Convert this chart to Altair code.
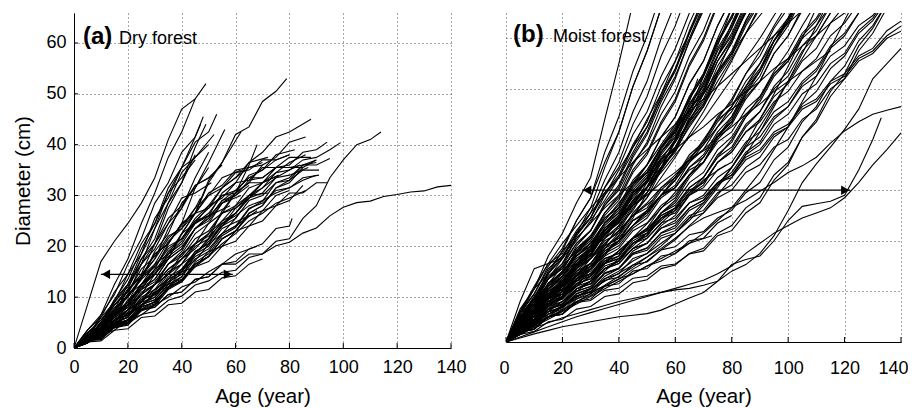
import altair as alt
import pandas as pd

FONT = "Liberation Sans"

x_ticks = [0, 20, 40, 60, 80, 100, 120, 140]
y_ticks = [0, 10, 20, 30, 40, 50, 60]

# Each line: diameters at ages 0, 5, 10, ... ; the last value sits at the given end age
dry_lines = [
    [0, 8.5, 17, 21, 24.5, 28.5, 33.5, 41, 47, 49, 52],
    [0, 3.5, 6.5, 12.5, 17.5, 24.5, 30.5, 37.5, 42.5, 49],
    [0, 2, 6.5, 10.5, 16.5, 21.5, 28.5, 32.5, 38.5, 41.5, 45.5],
    [0, 2.5, 4.5, 9.5, 13.5, 19.5, 24.5, 31.5, 35.5, 40.5, 42.5, 46],
    [0, 1.5, 5, 7.5, 12.5, 16.5, 23.5, 28.5, 34.5, 37.5, 42],
    [0, 2.5, 4.5, 9, 12.5, 18.5, 23.5, 30.5, 35.5, 41.5, 44],
    [0, 1.5, 4.5, 6.5, 11.5, 14.5, 20.5, 24.5, 29.5, 30.5, 32.5],
    [0, 2, 3, 6.5, 8.5, 12.5, 15.5, 20.5, 24.5, 31.5, 36.5, 43],
    [0, 1, 3.5, 5, 8.5, 10.5, 14.5, 17.5, 22.5, 26.5, 32.5, 36.5, 42.5],
    [0, 2.5, 4, 8.5, 11.5, 17.5, 21.5, 28.5, 32.5, 38],
    [0, 2, 6, 9, 14.5, 18.5, 25.5, 29.5, 35.5, 37.5, 40],
    [0, 2, 3.5, 7.5, 10.5, 16.5, 20.5, 27.5, 32.5, 39.5, 44],
    [0, 1.5, 4.5, 6, 10.5, 13.5, 19, 22.5, 28.5, 31.5, 35.5],
    [0, 2, 3, 6.5, 9, 14, 17.5, 23.5, 27.5, 33.5, 38.5],
    [0, 1, 4, 5.5, 9.5, 11.5, 15.5, 17.5, 22.5, 26.5, 33, 36.5, 42, 43.5, 48.5, 50.5, 53],
    [0, 2, 2.5, 5.5, 7, 10.5, 12.5, 16.5, 19, 23.5, 26, 30.5, 32.5, 36.5, 38.5, 41.5, 42.5, 45],
    [0, 1, 3.5, 4.5, 7.5, 9, 12.5, 14.5, 18.5, 20.5, 24.5, 26.5, 30.5, 32.5, 36, 37.5, 40.5, 41.5],
    [0, 2, 2.5, 5, 6, 9.5, 11, 14.5, 16.5, 20.5, 22.5, 26.5, 28, 31.5, 32.5, 35.5, 36, 38.5, 39, 40.5],
    [0, 1.5, 2, 4.5, 5.5, 8.5, 10, 13.5, 15, 19, 20.5, 24.5, 26.5, 30, 31.5, 34.5, 35, 37, 37.5, 39, 40.4],
    [0, 1.5, 2, 4.5, 5, 7.5, 8, 10.5, 11, 13.5, 14, 16.5, 16.5, 18.5, 18.5, 21, 21.5, 25.5, 28, 33.5, 37, 40, 41, 42.5],
    [0, 1.5, 2.2, 4, 4.8, 6.6, 7.2, 9.4, 10.2, 12.4, 13.2, 14.9, 15.3, 17.8, 18.5, 20.1, 20.8, 22.6, 23.6, 26, 27.7, 28.6, 28.9, 29.8, 30.2, 30.7, 30.9, 31.7, 32],
    [0, 1.5, 2.2, 4.5, 5, 7.5, 8, 10.5, 11, 13.5, 14, 16.5, 17, 19.5, 20.5, 23.5, 24, 25.5],
    [0, 2, 2.5, 5, 6, 9, 10, 13, 14.5, 18, 19.5, 22.5, 24, 27],
    [0, 2, 2.5, 5.5, 6.5, 9.5, 10.5, 14, 15.5, 19, 20.5, 24, 25.5, 29, 30, 32.5, 33, 35, 35],
    [0, 1.5, 2.5, 4.8, 5.5, 8.5, 9.5, 12.5, 14, 17.5, 19, 22.5, 24, 27.5, 28.5, 31, 31.5, 33.5, 34],
    [0, 1, 3.2, 4, 7, 8, 11, 12, 15, 16, 19, 20, 23, 24, 27, 28, 30.5, 30.5, 32.5, 32.5],
    [0, 2.5, 3.5, 7, 8.5, 12, 13.5, 17.5, 19.5, 23.5, 25.5, 29, 30, 33, 33.5, 35.5, 35.5, 36.5],
    [0, 1.5, 5, 6.5, 10.5, 12.5, 16.5, 18.5, 22.5, 24.5, 28, 29.5, 32.5, 33, 35.5, 35.5, 37.5, 37.5],
    [0, 2.3, 3.5, 7, 8.5, 12.5, 14.5, 18.5, 20.5, 24.5, 26.5, 30, 31, 33.5, 33.5, 35.5, 35.5],
    [0, 1.5, 5, 7, 11.5, 14, 18.5, 20.5, 24.5, 26.5, 30, 31.5, 34.5, 35, 37, 37, 38],
    [0, 3, 4.5, 8.5, 11, 15.5, 18, 22, 23.5, 26.5, 27.5, 30, 30.5, 32.5, 32.5, 34],
    [0, 1.5, 5, 7, 11.5, 14, 18.5, 20.5, 24.5, 26.5, 30.5, 32, 35, 36],
    [0, 2, 2.5, 5.5, 6.5, 9.5, 10.5, 13.5, 15, 18.5, 20, 23.5, 26],
    [0, 2.5, 4, 8, 10, 14, 16, 20, 21.5, 25, 26, 28],
    [0, 2, 3, 6.5, 8, 11.5, 13, 16.5, 18, 21.5, 23, 26.5, 27.5, 30, 30.5],
    [0, 1.5, 1.8, 4.3, 5, 8, 9, 12, 13, 16, 17, 20, 21, 24, 25, 28, 29, 32],
    [0, 1.7, 2.1, 4.7, 5.5, 8.5, 9.5, 12.5, 13.5, 16.5, 18, 21.5, 23, 26.5, 28, 31.5, 32.5, 35.5, 37],
    [0, 1.2, 1.4, 3.5, 3.8, 6, 6.3, 8.5, 8.8, 11, 11.5, 13.8, 14.2, 16.5, 17.5],
    [0, 2, 3, 6, 7.5, 11, 12.5, 16.5, 18.5, 22.5, 24.5, 28.5, 30.5, 34, 35, 38, 39],
    [0, 1.8, 2.5, 5.5, 6.5, 10, 11.5, 15, 16.5, 20, 21.5, 25, 26.5, 29.5, 30.5, 33.5, 34, 35.5],
    [0, 2.3, 3.5, 6.5, 8, 11.5, 13.5, 17.5, 19.5, 23.5, 25, 28.5, 30],
    [0, 3, 5, 9.5, 12.5, 17.5, 20.5, 25.5, 28, 32, 33.5, 36],
    [0, 3.5, 6, 11, 14.5, 20.5, 24.5, 30.5, 33.5, 37],
    [0, 1.5, 1.7, 4, 4.5, 7.3, 8.3, 11.5, 13, 16.5, 18, 21.5, 23, 26.5, 28, 31.5, 33, 36, 37],
    [0, 1.7, 2, 4.5, 5.3, 8.1, 9, 12, 13.3, 16.5, 18, 21.5, 23, 26, 27, 30, 31],
    [0, 1.5, 1.7, 4.1, 4.7, 7.5, 8.5, 12, 14, 18.5, 21.5, 27, 30.5, 36, 40],
    [0, 1.6, 1.9, 4.3, 4.9, 7.7, 8.7, 11.9, 13.3, 16.9, 18.5, 22.1, 23.7, 27.3, 28.9, 32.5, 33.5, 36, 36, 37.3],
    [0, 1, 2.5, 3.5, 5.5, 6.5, 8.5, 10, 12, 13, 15, 16.5, 18.5, 20],
    [0, 2, 3.5, 6, 8, 10.5, 12.5, 15.5, 17.5, 20.5, 22.5],
    [0, 1.5, 3.5, 5, 7.5, 9, 11.5, 13.5, 16.5, 18.5, 21.5, 24, 27.5, 29.5, 32.5, 34],
    [0, 2.5, 4.5, 7.5, 10, 13.5, 16, 19.5, 21.5, 24.5, 26, 28.5, 30, 32],
    [0, 1.2, 2.6, 4.2, 5.6, 7.6, 9.2, 11.6, 13.4, 16, 18, 20.5, 22.5, 25, 26.5, 28.5, 29.5, 31],
    [0, 2.8, 5.5, 8.5, 11, 14.5, 17.5, 21.5, 24, 27.5, 29.5],
    [0, 1.8, 3, 5.5, 7.5, 10.5, 12.5, 15.5, 17.5, 20.5, 22, 24.5, 26, 28, 29, 30.5, 31.5, 33, 34],
    [0, 1.4, 3.2, 4.6, 6.8, 8.4, 10.8, 12.6, 15.4, 17.2, 20.4, 22.5, 25.5, 27],
    [0, 2.2, 4, 7, 9, 12.5, 14.5, 18, 20, 23.5, 25.5, 29, 31, 33.5, 35, 37, 38],
    [0, 2.5, 4, 7.5, 10, 14, 16.5, 21, 23.5, 27.5, 30, 33.5, 35],
    [0, 1.5, 3.5, 5, 7.5, 9.5, 12.5, 14.5, 17.5, 19.5, 22.5, 25, 28, 30, 32.5, 34.5, 36.5, 38],
    [0, 2, 3.5, 6.5, 8.5, 12, 14.5, 18.5, 21, 25, 27.5, 31.5, 33.5, 36.5, 37.5],
    [0, 3, 5.5, 9, 12, 16.5, 19.5, 24.5, 27.5, 32, 34],
    [0, 1.3, 2.8, 4.5, 6.3, 8.5, 10.5, 13, 15.5, 18.5, 21, 24, 26.5, 29.5, 31.5, 33.5, 35, 36],
    [0, 2.2, 3.8, 6.8, 9, 12.5, 15, 19, 21.5, 25.5, 28, 31.5, 33.5, 35.5, 36.5],
]
dry_end = [49, 45, 48, 53, 52, 47, 51, 56, 62, 45, 50, 49, 50, 50, 79, 88, 86, 94, 99, 114,
           140, 81, 68, 91, 91, 94, 90, 88, 85, 80, 76, 70, 65, 58, 72, 85, 90, 70, 82, 87,
           62, 55, 45, 90, 80, 68, 95, 68, 50, 76, 65, 86, 47, 90, 62, 80,
           62, 86, 72, 52, 84, 70]

# Moist forest: lines observed at every 5-year step (most leave the top of the panel)
moist_lines = [
    [0, 6, 10.5, 17, 21.5, 27.5, 32.5, 44, 55, 67],
    [0, 5.5, 9.5, 15, 18.5, 24, 28.5, 37.5, 44.5, 53.5, 60.5, 69],
    [0, 8, 14.5, 15.5, 16.5, 21.5, 26.5, 34.5, 41.5, 50.5, 57.5, 66],
    [0, 5, 8.5, 14, 18, 24, 28.5, 35.5, 41.5, 50.5, 57.5, 66],
    [0, 4.5, 8, 13.5, 16.5, 21.5, 24.5, 30.5, 35.5, 43, 48.5, 56.5, 62.5, 70],
    [0, 6.5, 10.5, 15.5, 17.5, 22, 25.5, 32, 37.5, 45.5, 51.5, 60, 67],
    [0, 4.5, 7.5, 12.5, 15.5, 20.5, 23.5, 29, 32.5, 38.5, 42.5, 49, 54, 61.5, 68],
    [0, 4, 7, 11.5, 14, 19, 22, 27.5, 31, 37, 41.5, 48.5, 53.5, 61, 67],
    [0, 5.5, 8.5, 13, 15.5, 19.5, 22, 27, 30.5, 36.5, 41, 47.5, 52.5, 59.5, 65.5],
    [0, 3.5, 6, 10.5, 13, 17.5, 20.5, 25.5, 29, 35, 39.5, 46.5, 52, 59.5, 66],
    [0, 5, 8, 12.5, 14.5, 18.5, 21, 25.5, 28.5, 34, 37.5, 43.5, 48, 55, 60, 67],
    [0, 4, 6.5, 11, 13.5, 18, 20.5, 25, 28, 33.5, 37, 43, 47.5, 54.5, 59.5, 66.5],
    [0, 3.5, 5.5, 9.5, 11.5, 15.5, 18, 22.5, 25, 29.5, 32.5, 37.5, 41, 47, 51.5, 58, 62.5, 69],
    [0, 4.5, 7, 11, 13, 17, 19, 23, 25.5, 30, 33, 38.5, 42.5, 48.5, 53, 59.5, 64, 70],
    [0, 3, 5, 9, 11, 15, 17, 21.5, 24, 29, 32, 37.5, 41.5, 48, 52.5, 59.5, 64.5, 71],
    [0, 4, 6.5, 10.5, 12.5, 16.5, 18.5, 22.5, 24.5, 29, 31.5, 36.5, 39.5, 45, 49, 55.5, 60, 66],
    [0, 3.5, 5.5, 9.5, 11, 14.5, 16.5, 20.5, 23, 27.5, 30.5, 36, 40, 46.5, 51, 57.5, 62, 68],
    [0, 3, 4.5, 8, 9.5, 13.5, 15.5, 19.5, 22, 26.5, 29.5, 34.5, 38, 44, 48, 54.5, 59, 65.5, 70.5],
    [0, 5, 8, 12.5, 14.5, 18.5, 20.5, 24.5, 26.5, 31, 33.5, 38.5, 41.5, 47, 50.5, 56.5, 60.5, 66.5],
    [0, 3.5, 6, 10, 12, 16, 18, 22.5, 25, 29.5, 32.5, 38, 42, 48.5, 53, 60, 66],
    [0, 2.5, 4, 7.5, 9, 12.5, 14.5, 18.5, 21, 25.5, 28.5, 34, 38, 44.5, 49.5, 56.5, 62, 69],
    [0, 4, 6, 10, 11.5, 15.5, 17.5, 22, 24.5, 29.5, 32.5, 37.5, 40.5, 46, 49.5, 55.5, 59.5, 65.5, 70],
    [0, 3, 4.5, 8.5, 10.5, 14.5, 16.5, 20.5, 22.5, 27, 29.5, 34.5, 37.5, 43, 46.5, 52.5, 56.5, 62.5, 67],
    [0, 4.5, 7.5, 11.5, 13.5, 17.5, 19.5, 23.5, 25.5, 29.5, 31.5, 36, 38.5, 43.5, 47, 53, 57, 63, 67.5],
    [0, 3.5, 5.5, 9.5, 11.5, 16, 18.5, 23.5, 26.5, 31.5, 35, 40.5, 44.5, 51, 55.5, 62.5, 68],
    [0, 3, 5, 9, 11, 15, 17.5, 22, 24.5, 29, 32, 37, 40.5, 46, 50, 56.5, 61, 67],
    [0, 2.5, 3.5, 6.5, 7.5, 10.5, 12, 15.5, 17, 20.5, 22.5, 26.5, 28.5, 33, 35.5, 40.5, 43.5, 49, 52.5, 58.5, 62.5, 68],
    [0, 3, 4.5, 8, 9.5, 13, 14.5, 18, 19.5, 23, 25, 29, 31, 35.5, 38, 42.5, 45.5, 50.5, 54, 59.5, 63, 68.5],
    [0, 3.5, 5, 8.5, 10, 13.5, 15, 18.5, 20, 24, 26, 30, 32.5, 37, 39.5, 44.5, 47.5, 53, 56.5, 62, 66],
    [0, 2.5, 4, 7.5, 9, 12.5, 14, 17.5, 19, 22.5, 24.5, 28.5, 30.5, 34.5, 37, 41.5, 44.5, 50, 53.5, 59.5, 63.5, 69],
    [0, 4, 6, 10, 11.5, 15, 16.5, 20, 21.5, 25, 26.5, 30.5, 32.5, 36.5, 39, 43.5, 46.5, 51.5, 55, 60.5, 64, 69],
    [0, 2.3, 3.1, 6, 7, 10, 11, 14.5, 16, 19.5, 21.5, 25.5, 28, 32.5, 35.5, 40.5, 44, 49.5, 53.5, 59.5, 64, 70],
    [0, 3.3, 5.1, 8.7, 10.3, 13.9, 15.5, 19, 20.5, 24, 25.5, 29, 30.5, 34.5, 36.5, 41, 43.5, 48.5, 51.5, 57, 60.5, 65.5],
    [0, 2.7, 4, 7.3, 8.7, 12.1, 13.5, 17, 18.5, 22, 23.5, 27, 29, 33, 35.5, 40, 43, 48, 51.5, 57, 60.5, 66],
    [0, 2.5, 3.5, 6.5, 7.5, 10.5, 11.5, 14.5, 16, 19.5, 21, 24.5, 26, 29.5, 31.5, 35.5, 37.5, 41.5, 44, 48.5, 51, 55.5, 58, 63, 66.5],
    [0, 3, 4.5, 8, 9, 12, 13, 16, 17, 20.5, 22, 25.5, 27, 30.5, 32.5, 36.5, 38.5, 43, 45.5, 50, 52.5, 57.5, 60.5, 65],
    [0, 3.5, 5.5, 9, 10.5, 14, 15.5, 19, 20.5, 24, 25.5, 29, 30.5, 34, 35.5, 39.5, 41.5, 46, 48.5, 53, 55.5, 60, 62.5, 66.5],
    [0, 2, 2.5, 5, 6, 9, 10, 13, 14.5, 18, 19.5, 23, 25, 29, 31, 35.5, 38, 42.5, 45.5, 50.5, 53.5, 58.5, 61.5, 66.5],
    [0, 2.5, 4, 7.5, 9, 12.5, 13.5, 16.5, 17.5, 20.5, 22, 25.5, 27.5, 31.5, 33.5, 38, 40.5, 45, 48, 53, 56, 61, 64, 68.5],
    [0, 3, 4, 7, 8, 11, 12, 15, 16, 19.5, 21, 24.5, 26.5, 30.5, 32.5, 37, 39.5, 44.5, 47.5, 52.5, 55.5, 60.5, 63.5, 68],
    [0, 2.5, 3.5, 6.5, 7.5, 10.5, 11.5, 14.5, 15.5, 18.5, 19.5, 22.5, 24, 27.5, 29, 32.5, 34.5, 38.5, 40.5, 44.5, 46.5, 50.5, 52.5, 56.5, 58.5, 62.5, 64.5, 68],
    [0, 2, 2.5, 5.5, 6.5, 9.5, 10.5, 13.5, 14.5, 17.5, 18.5, 21.5, 22.5, 26, 27.5, 31, 33, 37, 39, 43, 45, 49, 51, 55, 57, 61.5, 64, 68],
    [0, 3, 4.5, 7.5, 8.5, 11.5, 12.5, 15.5, 16.5, 20, 21.5, 25, 26.5, 30, 31.5, 35.5, 37.5, 41.5, 43.5, 47.5, 49.5, 53.5, 56, 60.5, 63, 67],
    [0, 2.3, 3.1, 6, 6.8, 9.6, 10.6, 13.6, 14.6, 17.6, 18.6, 21.6, 23, 26.5, 28, 31.5, 33.5, 37.5, 39.5, 44, 46.5, 51, 53.5, 58, 60.5, 65, 68],
    [0, 3.5, 5, 8.5, 9.5, 12.5, 13.5, 16.5, 17.5, 20.5, 21.5, 24.5, 25.5, 29, 30.5, 34, 35.5, 39.5, 41.5, 45.5, 47.5, 51.5, 54, 58.5, 61, 65],
    [0, 2.5, 3.5, 6.5, 7.5, 10.5, 11.5, 14.5, 15.5, 18.5, 19.5, 22.5, 23.5, 26.5, 28, 31.5, 33, 36.5, 38, 41.5, 43, 46.5, 48, 51.5, 53, 56.5, 58, 61.5, 63.4],
    [0, 3, 4.5, 7.5, 8.5, 11.5, 12.5, 15.5, 16.5, 19.5, 20.5, 23.5, 24.5, 27.5, 28.5, 31.5, 32.5, 36, 37.5, 41, 42.5, 46, 47.5, 51, 52.5, 56, 57.5, 60.5, 62.4],
    [0, 2, 2.5, 5, 5.5, 8.5, 9.5, 12.5, 13.5, 16.5, 17.5, 20.5, 21.5, 24.5, 25.5, 28.5, 30, 33.5, 35, 38.5, 40, 44, 46, 50, 52, 55.5, 57, 60, 61.4],
    [0, 1.5, 2.8, 3.8, 4.8, 5.6, 6.4, 7.2, 8, 8.6, 9.2, 9.8, 10.3, 10.6, 11.2, 12, 14, 15.3, 17.5, 21, 26, 31.5, 35.2, 38.5, 42, 46, 52, 55, 58],
    [0, 1, 2, 3, 4, 5, 5.8, 6.6, 7.4, 8.2, 9, 9.8, 10.6, 11.4, 12.2, 13.5, 15, 17.5, 19.5, 21.5, 23, 24.5, 25.5, 26.5, 28.5, 31.5, 35, 38, 41.3],
    [0, 2, 3.8, 5.5, 7.2, 8.8, 10.4, 12, 13.6, 15.2, 16.8, 18.5, 20.5, 22.8, 24.5, 25.6, 26.6, 28, 29.8, 31.5, 33.5, 34.8, 36.5, 39.3, 41.7, 43.5, 45, 45.8, 46.5],
    [0, 2, 2.5, 5, 5.5, 7.8, 8.2, 10.2, 10.6, 12.6, 13, 15, 15.4, 17.4, 18, 21, 22, 25.5, 27.5, 32, 35, 40.5, 44, 49.5, 53, 58.5, 62, 67],
    [0, 2.5, 3.5, 6, 6.8, 9.2, 9.8, 12.2, 12.8, 15.2, 15.8, 18.2, 18.8, 21.2, 21.8, 24.5, 26, 29.5, 31.5, 36, 38.5, 43.5, 46.5, 51.5, 54.5, 59.5, 62.5, 67],
    [0, 1.5, 2.1, 4, 4.5, 6.5, 7, 9, 9.5, 11.7, 12.3, 14.5, 15.2, 17.5, 18.5, 21.5, 23, 26.5, 28.5, 33, 35.5, 40.5, 43.5, 48.5, 52, 57.5, 61, 66],
    [0, 2, 2.5, 5, 5.5, 8, 8.5, 11, 11.5, 14, 14.5, 17, 17.5, 20, 20.5, 23.5, 25],
    [0, 2.7, 3.7, 6.5, 7.3, 10.1, 10.9, 13.7, 14.5, 17.3, 18.1, 21, 22, 25, 26, 29.5, 31, 34.5, 36.5, 40.5, 42.5, 47, 49.5, 54, 56.5, 61, 63.5, 67.5],
    [0, 4, 6.5, 11, 13, 17, 19, 23.5, 26, 30.5, 33.5, 38.5, 42, 48, 52.5, 59, 64, 70.5],
    [0, 3.3, 5.3, 9.3, 11.3, 15.3, 17.3, 21.5, 23.7, 28, 30.7, 35.5, 38.5, 44, 47.5, 53.5, 57.5, 63.5, 68.5],
    [0, 4.7, 7.5, 11.7, 13.7, 17.7, 20, 24.5, 27, 32, 35, 40.5, 44.5, 51, 55.5, 62.5, 68],
    [0, 3.7, 5.7, 9.5, 11.3, 15.1, 17.1, 21.3, 23.5, 27.9, 30.5, 35.3, 38.3, 43.5, 47, 53, 57, 63.5, 68.5],
    [0, 6, 9.5, 14.5, 17, 21.5, 24.5, 29.5, 33, 39, 43.5, 50.5, 55.5, 63, 69],
    [0, 4.5, 7.5, 12.5, 15.5, 21, 24.5, 30.5, 34.5, 41, 45.5, 52.5, 58, 65],
    [0, 1.5, 3.5, 5, 7, 8.5, 10, 11, 12.5, 13.5, 15, 16, 17.5, 19.5, 21.5, 24, 26.5, 30, 33.5, 38, 42.5, 47.5, 52.5, 58, 63.5, 69],
    [0, 2, 3.5, 5.5, 7, 9, 10.5, 12.5, 14, 16, 17.5, 19.5, 21.5, 24, 27, 30.5, 34.5, 39, 44, 49, 54.5, 60, 66],
    [0, 1.8, 3.2, 5, 6.2, 8, 9.2, 11, 12.4, 14.4, 16, 18.2, 20.2, 23, 25.5, 29, 32.5, 37, 41.5, 46.5, 51.5, 57, 62.5, 68],
    [0, 5, 9, 13.5, 17, 20.5, 23.5, 26.5, 29, 31.5, 33.5, 36, 38, 40.5, 42.5, 45, 47, 49.5, 51.5, 54, 56, 58.5, 60.5, 63, 65, 67.5],
    [0, 4, 7.5, 11, 14, 17, 19.5, 22, 24.5, 27, 29, 31.5, 33.5, 36, 38, 40.5, 42.5, 45, 47, 49.5, 51.5, 53.5, 55.5, 57.5],
    [0, 2.5, 4, 6.5, 8, 10.5, 12, 14.5, 16, 18.5, 20.5, 23.5, 26, 29.5, 32.5, 36.5, 40, 44.5, 48.5, 53.5, 57.5, 62.5, 67],
    [0, 1.7, 3.3, 4.8, 6.4, 7.9, 9.6, 11.2, 13, 14.8, 16.8, 19, 21.5, 24.5, 27.5, 31, 34.5, 38.5, 42.5, 47, 51.5, 56, 60.5, 65],
    [0, 3, 5, 8, 10, 13, 15, 18, 20, 23, 25.5, 29, 32, 36, 39.5, 44, 48, 53, 57.5, 62.5, 67],
    [0, 6, 11, 15.5, 19.5, 23, 26.5, 29.5, 32.5, 35.5, 38, 40.5, 43, 45.5, 48, 50.5, 53, 55.5, 58, 60.5, 63, 65.5],
    [0, 3.5, 6.5, 9.5, 12.5, 15.5, 18.5, 21.5, 24.5, 27.5, 30.5, 33.5, 37, 40.5, 44, 48, 52, 56, 60, 64.5, 69],
    [0, 2.2, 4.4, 6.6, 8.8, 11, 13.2, 15.6, 18, 20.6, 23.4, 26.4, 29.6, 33, 36.5, 40.5, 44.5, 49, 53.5, 58.5, 63.5, 68.5],
    [0, 4.5, 8.5, 12.5, 15, 19.5, 22, 27, 30, 35.5, 39, 45, 49.5, 56.5, 61.5, 68.5],
    [0, 3, 6.5, 8.5, 12.5, 14.5, 18.5, 20.5, 24.5, 27, 31.5, 34.5, 39.5, 43.5, 49, 53.5, 59.5, 65],
    [0, 2.5, 5.5, 7.5, 11, 13, 16.5, 19, 23, 26, 30.5, 34.5, 40, 45, 51, 56.5, 63, 69],
    [0, 5.5, 10.5, 13.5, 18, 21, 25.5, 29, 34, 38.5, 44, 49, 55.5, 61, 68],
    [0, 3.5, 6, 9, 12, 15, 18, 21, 24, 27, 30.5, 34, 38, 42.5, 46.5, 51.5, 56, 61, 66],
    [0, 2, 4.5, 6, 9, 11, 14.5, 17, 21, 24.5, 29.5, 34, 40, 45.5, 52.5, 58.5, 66],
    [0, 4, 7, 10.5, 13, 17, 19.5, 23.5, 26.5, 31, 34, 38.5, 41.5, 46, 49, 53.5, 57, 61, 64.5, 68],
    [0, 3, 5, 8, 10, 13, 15.5, 18.5, 21.5, 25, 28.5, 32.5, 36.5, 41, 45.5, 50.5, 55.5, 61, 66.5],
    [0, 2.5, 4.5, 7, 9.5, 12, 14.5, 17.5, 20, 23, 26, 29, 32, 35.5, 39, 42.5, 46.5, 50.5, 55, 59.5, 64, 68.5],
    [0, 4.5, 9, 12.5, 16.5, 20, 24, 28, 32.5, 37.5, 42.5, 48, 54, 60, 66.5],
]
# Moist forest lines whose last ring is not on the 5-year grid
moist_cut_lines = [
    [0, 0.8, 1.6, 2.3, 3, 3.5, 4, 4.5, 5, 5.3, 5.6, 6.3, 7.5, 8.7, 9.8, 12, 15.3, 16.3, 17, 20, 24, 26.8, 27.3, 27.8, 29, 34, 40, 44.3],
    [0, 3, 6, 9, 12, 15, 18, 21, 24.5, 28, 32, 36],
    [0, 2.5, 5, 7, 9, 11, 13, 15.5, 18, 20.5, 23],
    [0, 3.5, 7, 10, 13, 16, 19, 22, 25, 28.5, 32, 36, 40, 44],
    [0, 2, 4, 6, 8, 10, 12, 14, 16.5, 19, 21.5, 24, 26.5, 29, 32, 35],
    [0, 4, 8, 11.5, 15, 18, 21, 24, 27.5, 31, 35, 39, 43, 47.5, 52],
    [0, 1.5, 3, 4.5, 6, 7.5, 9, 10.5, 12, 13.5, 15, 16.5, 18, 19.5, 21],
    [0, 2.5, 5, 7.5, 10, 12.5, 15, 17.5, 20, 23, 26, 29, 32.5, 36, 40, 44, 48],
    [0, 3, 6, 9, 12, 14.5, 17, 19.5, 22, 25, 28],
    [0, 3, 5.5, 8.5, 11, 14, 16.5, 19.5, 22, 25, 27.5, 30.5, 33, 36, 38.5],
    [0, 2.5, 4.5, 7, 9, 11.5, 13.5, 16, 18, 20.5, 22.5, 25, 27],
]
moist_cut_end = [133, 55, 52, 63, 78, 68, 73, 85, 52, 72, 62]

dry_arrow = [10, 59, 14.5]
moist_arrow = [27, 122, 30]


def build(lines, ends):
    rows = []
    for i, vals in enumerate(lines):
        n = len(vals)
        end = ends[i] if i < len(ends) else 0
        for j, v in enumerate(vals):
            age = 5 * j
            if j == n - 1 and end and end > 5 * (n - 2):
                age = end
            rows.append({"tree": i, "k": j, "age": age, "d": v})
    return pd.DataFrame(rows)


GRID = dict(grid=True, gridColor="#4d4d4d", gridDash=[1, 3], gridWidth=1)


def panel(df, w, h, ymax, show_y, tag, name, arrow, tag_x, name_x, lab_y, xlp, xtp, flush):
    xs = alt.Scale(domain=[0, 140], nice=False, zero=False)
    ys = alt.Scale(domain=[0, ymax], nice=False, zero=False)
    common = dict(ticks=False, domainColor="black", domainWidth=1,
                  labelFontSize=18, titleFontSize=20.5, labelColor="black",
                  titleColor="black", titleFontWeight="normal", labelFont=FONT,
                  titleFont=FONT, **GRID)
    if flush:
        xaxis = alt.Axis(values=x_ticks, title="Age (year)", labelPadding=xlp,
                         titlePadding=xtp, labelFlush=True, labelFlushOffset=flush,
                         **common)
    else:
        xaxis = alt.Axis(values=x_ticks, title="Age (year)", labelPadding=xlp,
                         titlePadding=xtp, labelFlush=False, **common)
    if show_y:
        yaxis = alt.Axis(values=y_ticks, title="Diameter (cm)", labelPadding=8,
                         titlePadding=12, labelFlush=False, **common)
    else:
        yaxis = alt.Axis(values=y_ticks, title=None, labels=False, domain=False,
                         ticks=False, **GRID)
    X = alt.X("age:Q", scale=xs, axis=xaxis)
    Y = alt.Y("d:Q", scale=ys, axis=yaxis)

    lines_l = alt.Chart(df).mark_line(color="black", strokeWidth=1.1, clip=True).encode(
        x=X, y=Y, detail="tree:N", order="k:Q")

    xt = alt.Chart(pd.DataFrame({"age": x_ticks})).mark_rule(
        color="black", strokeWidth=1).encode(x=X, y=alt.value(h), y2=alt.value(h - 5))
    layers = [lines_l, xt]
    if show_y:
        yt = alt.Chart(pd.DataFrame({"d": y_ticks})).mark_rule(
            color="black", strokeWidth=1).encode(y=Y, x=alt.value(0), x2=alt.value(4))
        layers.append(yt)

    adf = pd.DataFrame({"age": [arrow[0]], "age2": [arrow[1]], "d": [arrow[2]]})
    rule = alt.Chart(adf).mark_rule(color="black", strokeWidth=1.3).encode(
        x=X, x2="age2:Q", y=Y)
    lh = alt.Chart(pd.DataFrame({"age": [arrow[0]], "d": [arrow[2]]})).mark_point(
        shape="triangle-left", filled=True, size=90, color="black", opacity=1,
        xOffset=5).encode(x=X, y=Y)
    rh = alt.Chart(pd.DataFrame({"age": [arrow[1]], "d": [arrow[2]]})).mark_point(
        shape="triangle-right", filled=True, size=90, color="black", opacity=1,
        xOffset=-5).encode(x=X, y=Y)
    t1 = alt.Chart(pd.DataFrame({"t": [tag]})).mark_text(
        align="left", baseline="alphabetic", fontSize=24, fontWeight="bold",
        font=FONT, color="black").encode(x=alt.value(tag_x), y=alt.value(lab_y), text="t:N")
    t2 = alt.Chart(pd.DataFrame({"t": [name]})).mark_text(
        align="left", baseline="alphabetic", fontSize=18, font=FONT,
        color="black").encode(x=alt.value(name_x), y=alt.value(lab_y), text="t:N")
    layers += [rule, lh, rh, t1, t2]
    return alt.layer(*layers).properties(width=w, height=h)


dry_df = build(dry_lines, dry_end)
moist_df = pd.concat([
    build(moist_lines, []),
    build(moist_cut_lines, moist_cut_end).assign(tree=lambda d: d["tree"] + 1000),
], ignore_index=True)

left = panel(dry_df, 377, 335, 65.9, True, "(a)", "Dry forest", dry_arrow,
             9, 45, 31, 10, 10.5, 0)
right = panel(moist_df, 395, 329, 65, False, "(b)", "Moist forest",
              moist_arrow, 7, 47, 28.7, 17, 9, 7)

chart = alt.hconcat(left, right, spacing=32).properties(
    padding={"left": 5, "top": 5, "right": 0, "bottom": 0}
).configure_view(strokeWidth=0)

chart.save("out.html", embed_options={"renderer": "svg", "actions": False})
